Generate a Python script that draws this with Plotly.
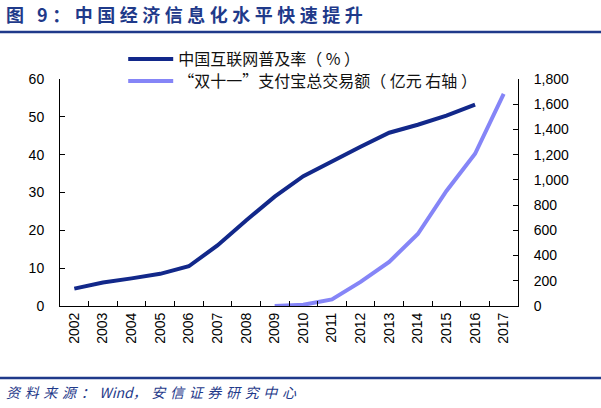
import plotly.graph_objects as go

years = [str(y) for y in range(2002, 2018)]
internet_rate = [4.6, 6.2, 7.3, 8.5, 10.5, 16.0, 22.6, 28.9, 34.3, 38.3, 42.1, 45.8, 47.9, 50.3, 53.2, None]
alipay_gmv = [None, None, None, None, None, None, None, 0.5, 9.4, 52, 191, 350, 571, 912, 1207, 1682]

name_rate = "中国互联网普及率（ % ）"
name_gmv = "“双十一”支付宝总交易额（ 亿元 右轴 ）"
title_text = "图 9：中国经济信息化水平快速提升"
source_cn1 = "资料来源："
source_en = "Wind"
source_cn2 = "，安信证券研究中心"

NAVY = "#12288a"
LIGHT = "#8585f7"
HEAD = "#1f3a8a"


def spaced(s, gap):
    # widen letter spacing like the original
    return gap.join(s)


fig = go.Figure()
fig.add_trace(go.Scatter(x=years, y=internet_rate, name=name_rate, mode="lines",
                         line=dict(color=NAVY, width=4), legend="legend"))
fig.add_trace(go.Scatter(x=years, y=alipay_gmv, name=name_gmv, mode="lines", yaxis="y2",
                         line=dict(color=LIGHT, width=4), legend="legend2"))

tickfont = dict(family="Liberation Sans, Arial", size=14, color="#000000")
legfont = dict(family="Noto Sans CJK SC", size=16, color="#111111")

fig.update_layout(
    width=601, height=408,
    margin=dict(l=60, r=83, t=79, b=102),
    paper_bgcolor="white", plot_bgcolor="white",
    showlegend=True,
    legend=dict(x=0.138, y=1.088, xanchor="left", yanchor="middle", font=legfont,
                bgcolor="rgba(0,0,0,0)", itemwidth=45),
    legend2=dict(x=0.138, y=0.991, xanchor="left", yanchor="middle", font=legfont,
                 bgcolor="rgba(0,0,0,0)", itemwidth=45),
    xaxis=dict(type="category", range=[-0.5, 15.5], showline=True, linecolor="black",
               linewidth=1, ticks="inside", ticklen=5, tickson="boundaries",
               tickcolor="black", tickangle=-90, tickfont=tickfont, showgrid=False,
               zeroline=False),
    yaxis=dict(range=[0, 60], dtick=10, showline=True, linecolor="black", linewidth=1,
               ticks="inside", ticklen=5, tickcolor="black", tickfont=tickfont,
               showgrid=False, zeroline=False, ticklabelstandoff=12),
    yaxis2=dict(range=[0, 1800], dtick=200, overlaying="y", side="right", showline=True,
                linecolor="black", linewidth=1, ticks="inside", ticklen=5,
                tickcolor="black", tickformat=",", tickfont=tickfont, showgrid=False,
                zeroline=False, ticklabelstandoff=12),
)

# heading, source and the two rules
fig.add_annotation(text="<b>" + spaced(title_text, "\u2005") + "</b>", xref="paper", yref="paper",
                   x=-56 / 458, y=1 + 65 / 227, xanchor="left", yanchor="middle",
                   showarrow=False, font=dict(family="Noto Sans CJK SC", size=18, color=HEAD))
fig.add_annotation(text="<i>" + spaced(source_cn1, "\u2004") + "\u2004" + source_en
                   + spaced(source_cn2, "\u2004") + "</i>",
                   xref="paper", yref="paper",
                   x=-56 / 458, y=-86 / 227, xanchor="left", yanchor="middle",
                   showarrow=False, font=dict(family="Noto Sans CJK SC", size=14, color=HEAD))
fig.add_shape(type="line", xref="paper", yref="paper", x0=-60 / 458, x1=541 / 458,
              y0=1 + 47 / 227, y1=1 + 47 / 227, line=dict(color=HEAD, width=2.5))
fig.add_shape(type="line", xref="paper", yref="paper", x0=-60 / 458, x1=541 / 458,
              y0=-72 / 227, y1=-72 / 227, line=dict(color=HEAD, width=2.5))

fig.write_html("out.html", config={"displayModeBar": False},
               post_script="document.body.style.margin='0';")
